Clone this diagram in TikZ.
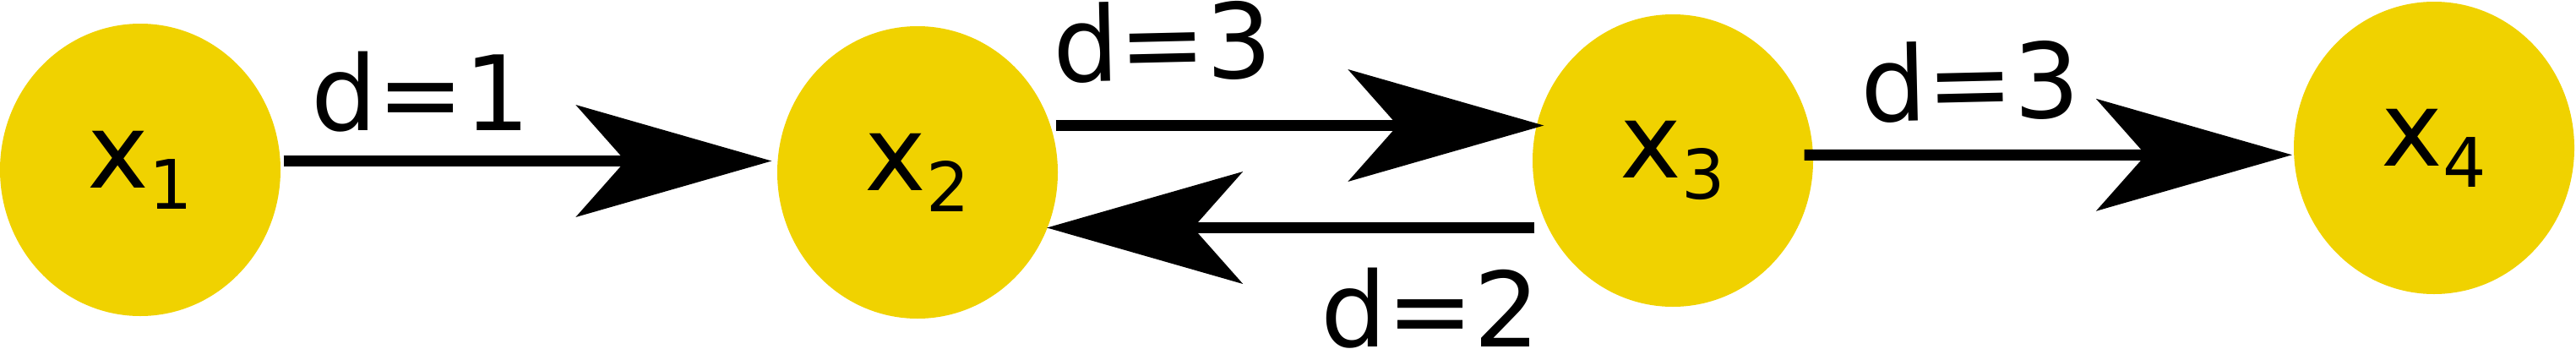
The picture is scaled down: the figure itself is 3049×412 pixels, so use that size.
\documentclass[tikz,border=0pt]{standalone}
\usepackage{fontspec}
\setmainfont{DejaVu Sans}
\usepackage{tikz}
\usetikzlibrary{arrows.meta,calc,positioning,shapes.geometric}
\definecolor{nodeyellow}{HTML}{F0D200}
\newcommand{\sub}[1]{\raisebox{-2.5mm}{\fontsize{23}{23}\selectfont #1}}
\tikzset{
  statenode/.style={ellipse,fill=nodeyellow,inner sep=0pt,minimum width=3.32cm,minimum height=3.46cm,font=\fontsize{35}{42}\selectfont},
  link/.style={line width=1.3mm,-{Stealth[length=23.2mm,width=13.3mm,inset=5.9mm,line width=0pt]}},
  weight/.style={font=\fontsize{35}{42}\selectfont,inner sep=0pt,text depth=0pt,anchor=base}
}

\begin{document}
\begin{tikzpicture}[x=0.1mm,y=-0.1mm]
  \useasboundingbox (0,0) rectangle (3049,412);
  \node[statenode] (x1) at (166,201) {x\sub{1}};
  \node[statenode] (x2) at (1086,204) {x\sub{2}};
  \node[statenode] (x3) at (1980,190) {x\sub{3}};
  \node[statenode] (x4) at (2881,175) {x\sub{4}};
  \draw[link] ($(x1.east)+(3,-10.5)$) -- ($(x2.west)+(-6,-13.5)$);
  \draw[link] ($(x2.east)+(-3,-55.5)$) -- ($(x3.west)+(14,-41.5)$);
  \draw[link] ($(x3.west)+(3,79.5)$) -- ($(x2.east)+(-13.5,65.5)$);
  \draw[link] ($(x3.east)+(-11,-6.7)$) -- ($(x4.west)+(-1.5,8.3)$);
  \node[weight] (w12) at (498,154) {d=1};
  \node[weight,rotate=1.3] (w23) at (1377,95) {d=3};
  \node[weight] (w32) at (1693,410) {d=2};
  \node[weight,rotate=1.3] (w34) at (2333,142) {d=3};
\end{tikzpicture}
\end{document}
